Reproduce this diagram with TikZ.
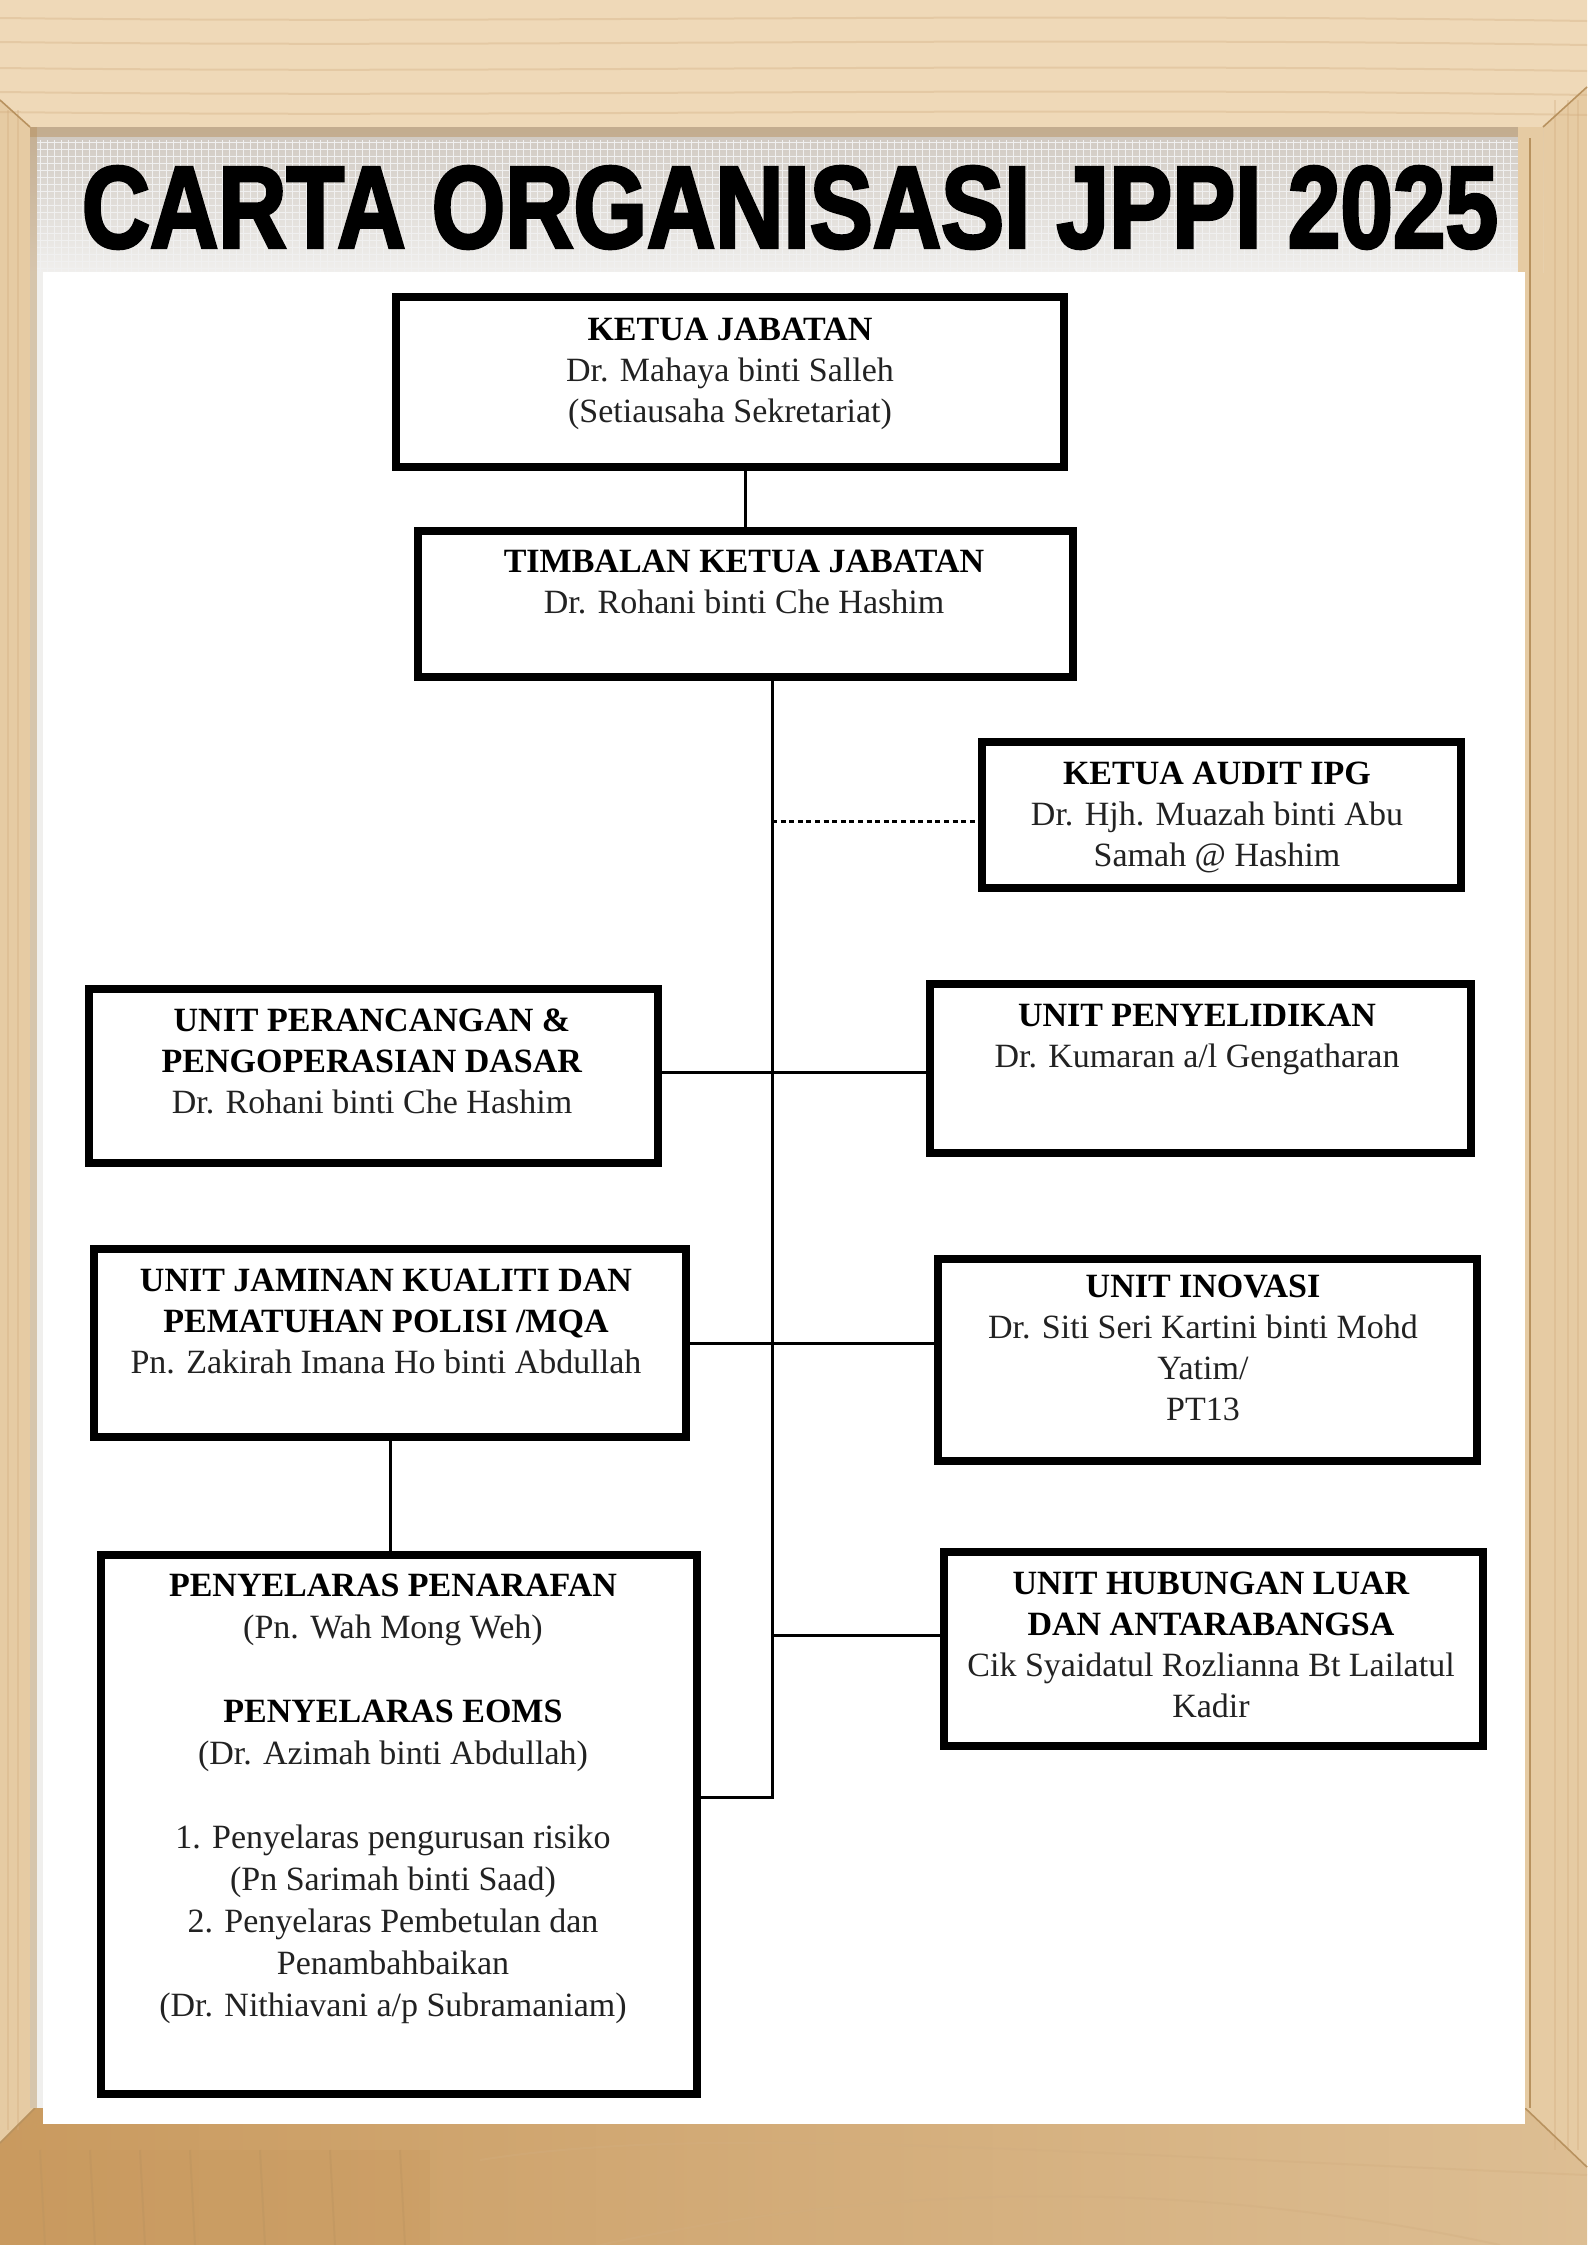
\documentclass[tikz,border=0pt]{standalone}
\usepackage{fontspec}
\usepackage{graphicx}
\setmainfont{Liberation Serif}
\newfontfamily\titlefont{Liberation Sans Bold}[FakeBold=3]
\usetikzlibrary{calc}
\definecolor{woodtop}{HTML}{EFD9B8}
\definecolor{woodgrain}{HTML}{D2AE80}
\definecolor{woodside}{HTML}{E6CBA3}
\definecolor{woodbotL}{HTML}{C99A5F}
\definecolor{woodbotR}{HTML}{DDBE93}
\definecolor{woodedge}{HTML}{B8925F}
\definecolor{canvastop}{HTML}{CFC8C0}
\definecolor{canvasbot}{HTML}{F0EFED}
\definecolor{namegray}{HTML}{222222}
\begin{document}
\begin{tikzpicture}[x=0.5pt,y=-0.5pt,
  orgbox/.style={draw=black,line width=4pt,fill=white,inner sep=0pt},
  orgtxt/.style={anchor=north,align=center,inner sep=0pt,text=namegray,
                 font=\fontsize{17}{20.5}\selectfont},
  link/.style={line width=1.5pt,draw=black},
  dotlink/.style={line width=1.5pt,draw=black,dash pattern=on 2.5pt off 1.8pt},
  grain/.style={draw=woodgrain,line width=1pt,opacity=0.35}]
\useasboundingbox (0,0) rectangle (1587,2245);
% ---------- wooden frame ----------
\fill[woodside] (0,0) rectangle (1587,2245);
\fill[woodtop] (0,0) -- (1587,0) -- (1587,87) -- (1543,127) -- (30,127) -- (0,100) -- cycle;
\shade[left color=woodbotL,right color=woodbotR]
  (0,2143) -- (35,2108) -- (1525,2108) -- (1587,2167) -- (1587,2245) -- (0,2245) -- cycle;
\fill[woodbotL,opacity=0.4] (0,2150) rectangle (430,2245);
% grain
\foreach \yy in {18,42,68,92,112}
  \draw[grain] (0,\yy) .. controls (500,\yy+6) and (1000,\yy-6) .. (1587,\yy+3);
\foreach \xx in {8,18}
  \draw[grain] (\xx,110) -- (\xx,2130);
\foreach \xx in {1555,1568,1578}
  \draw[grain] (\xx,100) -- (\xx,2150);
\draw[grain] (480,2160) .. controls (700,2125) and (1000,2150) .. (1587,2175);
\draw[grain] (600,2245) .. controls (900,2180) and (1200,2180) .. (1500,2245);
\foreach \xx in {40,90,140,190,260,330,400}
  \draw[grain,draw=woodedge] (\xx,2150) -- (\xx+5,2245);
% mitre lines
\draw[woodedge,line width=0.8pt] (0,100) -- (30,127);
\draw[woodedge,line width=0.8pt] (1587,87) -- (1543,127);
\draw[woodedge,line width=0.8pt] (0,2143) -- (35,2108);
\draw[woodedge,line width=0.8pt] (1525,2108) -- (1587,2167);
% canvas
\fill[canvasbot] (30,127) rectangle (1543,2108);
\shade[top color=canvastop,bottom color=canvasbot] (30,127) rectangle (1543,272);
\fill[woodedge,opacity=0.5] (30,127) rectangle (1543,137);
\fill[woodedge,opacity=0.45] (30,127) rectangle (37,2108);
\fill[woodside] (1518,127) rectangle (1543,2108);
\draw[woodedge,line width=1pt] (1530,138) -- (1530,2108);
\foreach \xx in {40,47,...,1515}
  \draw[black!6,line width=0.5pt] (\xx,140) -- (\xx,272);
\foreach \yy in {142,149,...,272}
  \draw[black!6,line width=0.5pt] (37,\yy) -- (1518,\yy);
% title
\node[inner sep=0pt] (title) at (790,207.5)
  {\resizebox{708pt}{40.5pt}{\titlefont CARTA ORGANISASI JPPI 2025}};
% white paper
\fill[white] (43,272) rectangle (1525,2124);
% ---------- boxes ----------
\node[orgbox,minimum width=334pt,minimum height=85pt] (kj) at (730,382) {};
\node[orgbox,minimum width=327.5pt,minimum height=73pt] (tkj) at (745.5,604) {};
\node[orgbox,minimum width=239.5pt,minimum height=73pt] (aud) at (1221.5,815) {};
\node[orgbox,minimum width=284.5pt,minimum height=87pt] (per) at (373.5,1076) {};
\node[orgbox,minimum width=270.5pt,minimum height=84.5pt] (pyl) at (1200.5,1068.5) {};
\node[orgbox,minimum width=296pt,minimum height=94pt] (jam) at (390,1343) {};
\node[orgbox,minimum width=269.5pt,minimum height=101pt] (ino) at (1207.5,1360) {};
\node[orgbox,minimum width=298pt,minimum height=269.5pt] (pnr) at (399,1824.5) {};
\node[orgbox,minimum width=269.5pt,minimum height=97pt] (hub) at (1213.5,1649) {};
% ---------- texts ----------
\node[orgtxt] (kjt) at (730,311.7) {\strut\textcolor{black}{\textbf{KETUA JABATAN}}\\
  Dr. Mahaya binti Salleh\\ (Setiausaha Sekretariat)};
\node[orgtxt] (tkjt) at (744,543.8) {\strut\textcolor{black}{\textbf{TIMBALAN KETUA JABATAN}}\\
  Dr. Rohani binti Che Hashim};
\node[orgtxt] (audt) at (1217,755.7) {\strut\textcolor{black}{\textbf{KETUA AUDIT IPG}}\\
  Dr. Hjh. Muazah binti Abu\\ Samah @ Hashim};
\node[orgtxt] (pert) at (372,1002.1) {\strut\textcolor{black}{\textbf{UNIT PERANCANGAN \&}}\\
  \textcolor{black}{\textbf{PENGOPERASIAN DASAR}}\\ Dr. Rohani binti Che Hashim};
\node[orgtxt] (pylt) at (1197,997.8) {\strut\textcolor{black}{\textbf{UNIT PENYELIDIKAN}}\\
  Dr. Kumaran a/l Gengatharan};
\node[orgtxt] (jamt) at (386,1262.8) {\strut\textcolor{black}{\textbf{UNIT JAMINAN KUALITI DAN}}\\
  \textcolor{black}{\textbf{PEMATUHAN POLISI /MQA}}\\ Pn. Zakirah Imana Ho binti Abdullah};
\node[orgtxt] (inot) at (1203,1268.5) {\strut\textcolor{black}{\textbf{UNIT INOVASI}}\\
  Dr. Siti Seri Kartini binti Mohd\\ Yatim/\\ PT13};
\node[orgtxt,font=\fontsize{17}{21}\selectfont] (pnrt) at (393,1567.1)
  {\strut\textcolor{black}{\textbf{PENYELARAS PENARAFAN}}\\
  (Pn. Wah Mong Weh)\\[21pt]
  \textcolor{black}{\textbf{PENYELARAS EOMS}}\\
  (Dr. Azimah binti Abdullah)\\[21pt]
  1. Penyelaras pengurusan risiko\\
  (Pn Sarimah binti Saad)\\
  2. Penyelaras Pembetulan dan\\
  Penambahbaikan\\
  (Dr. Nithiavani a/p Subramaniam)};
\node[orgtxt] (hubt) at (1211,1565) {\strut\textcolor{black}{\textbf{UNIT HUBUNGAN LUAR}}\\
  \textcolor{black}{\textbf{DAN ANTARABANGSA}}\\ Cik Syaidatul Rozlianna Bt Lailatul\\ Kadir};
% ---------- connectors ----------
\coordinate (trunk) at (772,1797);
\coordinate (audy) at (772,821);
\coordinate (r1) at (772,1072);
\coordinate (r2) at (772,1343);
\coordinate (r3) at (772,1635);
\draw[link] (kj.south -| tkj.north) -- (tkj.north);
\draw[link] (tkj.south -| trunk) -- (trunk) -- (pnr.east |- trunk);
\draw[dotlink] (audy) -- (aud.west |- audy);
\draw[link] (per.east |- r1) -- (pyl.west |- r1);
\draw[link] (jam.east |- r2) -- (ino.west |- r2);
\draw[link] (r3) -- (hub.west |- r3);
\draw[link] (jam.south) -- (pnr.north -| jam.south);
\end{tikzpicture}
\end{document}
